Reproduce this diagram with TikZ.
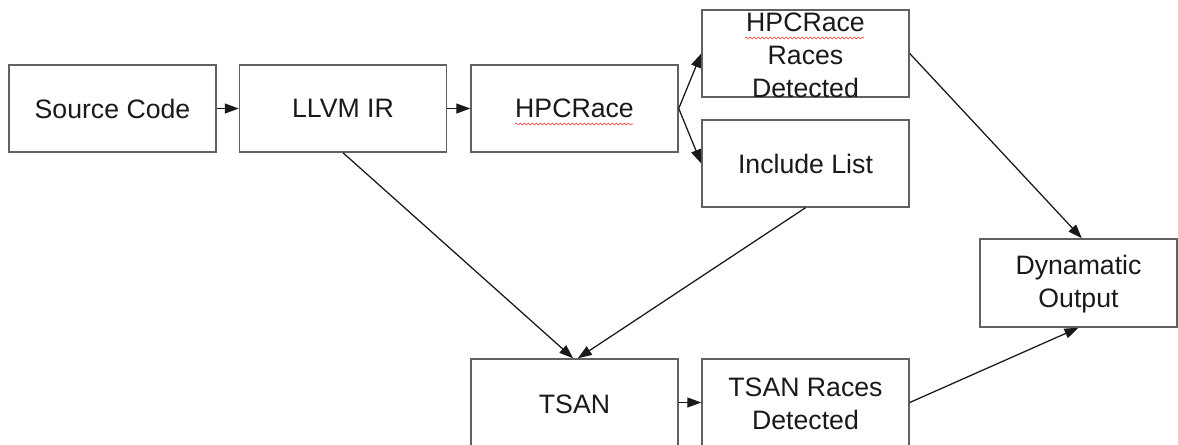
\documentclass[tikz,border=0pt]{standalone}
\usepackage{fontspec}
\setmainfont{Liberation Sans}
\usetikzlibrary{arrows.meta,decorations.pathmorphing}
\tikzset{
  boxnode/.style={draw=black!62, line width=1.1pt, minimum width=155.25pt, minimum height=65.25pt, inner sep=0pt},
  txt/.style={text=black!90, font=\fontsize{20}{24.75}\selectfont, align=center, inner sep=0pt},
  arr/.style={draw=black!90, line width=0.95pt, -{Triangle[length=10.5pt,width=7.5pt]}},
  spell/.style={draw=red!75!white, line width=0.5pt, decorate, decoration={snake, amplitude=0.7pt, segment length=3pt}}
}
\begin{document}
\begin{tikzpicture}[x=0.75pt,y=-0.75pt]
\useasboundingbox (0,0) rectangle (1178,444);
\clip (0,0) rectangle (1178,444);
% boxes
\node[boxnode] (src) at (112.5,108.5) {};
\node[boxnode] (llvm) at (343,108.5) {};
\node[boxnode] (hpc) at (574.5,108.5) {};
\node[boxnode] (hrd) at (805.5,53.5) {};
\node[boxnode] (inc) at (805.5,163.5) {};
\node[boxnode] (tsan) at (574.5,402.5) {};
\node[boxnode] (trd) at (805.5,402.5) {};
\node[boxnode, minimum width=147.75pt, minimum height=66pt] (dyn) at (1078.5,283) {};
% texts
\node[txt] (tsrc) at (src) {Source Code};
\node[txt] (tllvm) at (llvm) {LLVM IR};
\node[txt] (thpc) at (hpc) {HPCRace};
\node[txt] (thrd) at (805.5,55) {HPCRace\\Races\\Detected};
\node[txt] (tinc) at (inc) {Include List};
\node[txt] (ttsan) at (574.5,404) {TSAN};
\node[txt] (ttrd) at (805.5,404) {TSAN Races\\Detected};
\node[txt] (tdyn) at (1078.5,284) {Dynamatic\\Output};
% spell-check underlines
\draw[spell] (515,124) -- (633,124);
\draw[spell] (745,38) -- (864,38);
% connectors
\draw[arr] (src.east) -- (llvm.west);
\draw[arr] (llvm.east) -- (hpc.west);
\draw[arr] (hpc.east) -- (hrd.west);
\draw[arr] (hpc.east) -- (inc.west);
\draw[arr] (llvm.south) -- ([xshift=-1pt]tsan.north);
\draw[arr] (inc.south) -- ([xshift=2.5pt]tsan.north);
\draw[arr] (tsan.east) -- (trd.west);
\draw[arr] (hrd.east) -- ([xshift=2.5pt]dyn.north);
\draw[arr] (trd.east) -- (dyn.south);
\end{tikzpicture}
\end{document}
